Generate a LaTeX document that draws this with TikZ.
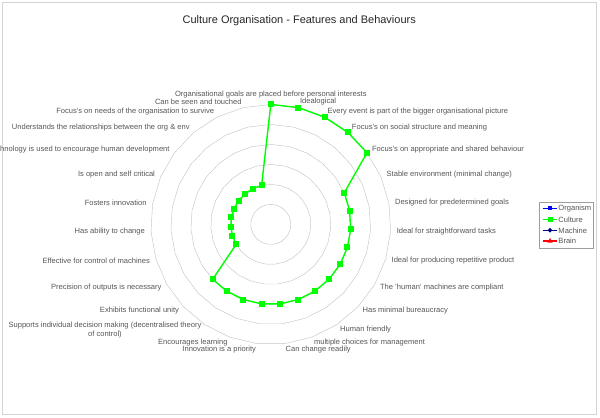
\documentclass[tikz,border=0pt]{standalone}
\usepackage{fontspec}
\setmainfont{Liberation Sans}
\usetikzlibrary{shapes.geometric,calc}
\definecolor{ringgrey}{HTML}{C4C4C4}
\definecolor{framegrey}{HTML}{D4D4D4}
\definecolor{labelgrey}{HTML}{555555}
\definecolor{culture}{HTML}{00FF00}
\definecolor{organism}{HTML}{0000FF}
\definecolor{machine}{HTML}{000080}
\definecolor{brain}{HTML}{FF0000}
\tikzset{
  lbl/.style={font=\fontsize{8.6}{10}\selectfont, text=labelgrey, inner sep=0pt, align=center},
  sqbox/.style={rectangle, fill=culture, inner sep=0pt, minimum size=0.24cm},
  ring/.style={draw=ringgrey, line width=0.5pt}
}

\begin{document}
\begin{tikzpicture}[x=0.04cm,y=0.04cm]
\useasboundingbox (-270.8,-192.6) rectangle (329.2,224.4);
\draw[framegrey, line width=0.8pt] (-268.1,-189.6) rectangle (325.7,221.7);

% title
\node[font=\fontsize{12.5}{15}\selectfont, text=black!85] (title) at (28.4,203.7)
  {Culture Organisation - Features and Behaviours};

% rings
\foreach \r in {20,40,...,120}
  \draw[ring] (90:\r) \foreach \k in {1,...,26} { -- ({90-\k*360/27}:\r) } -- cycle;

% category labels
\foreach \txt [count=\i from 0] in {
  {Organisational goals are placed before personal interests},
  {Idealogical},
  {Every event is part of the bigger organisational picture},
  {Focus's on social structure and meaning},
  {Focus's on appropriate and shared behaviour},
  {Stable environment (minimal change)},
  {Designed for predetermined goals},
  {Ideal for straightforward tasks},
  {Ideal for producing repetitive product},
  {The 'human' machines are compliant},
  {Has minimal bureaucracy},
  {Human friendly},
  {multiple choices for management},
  {Can change readily},
  {Innovation is a priority},
  {Encourages learning},
  {Supports individual decision making (decentralised theory\\of control)},
  {Exhibits functional unity},
  {Precision of outputs is necessary},
  {Effective for control of machines},
  {Has ability to change},
  {Fosters innovation},
  {Is open and self critical},
  {Technology is used to encourage human development},
  {Understands the relationships between the org \& env},
  {Focus's on needs of the organisation to survive},
  {Can be seen and touched}}
{
  \pgfmathsetmacro\ang{90-\i*360/27}
  \ifnum\i=0 \def\anc{south}\else\ifnum\i<14 \def\anc{west}\else\def\anc{east}\fi\fi
  \node[lbl, anchor=\anc] (l\i) at (\ang:126) {\txt};
}

% culture series
\foreach \v [count=\i from 0] in {6,6,6,6,6,4,4,4,4,4,4,4,4,4,4,4,4,4,2,2,2,2,2,2,2,2,2}
  \coordinate (p\i) at ({90-\i*360/27}:{20*\v});
\draw[culture, line width=1.6pt] (p0) \foreach \i in {1,...,26} { -- (p\i) } -- cycle;
\foreach \i in {0,...,26}
  \node[sqbox] (c\i) at (p\i) {};

% legend
\draw[ringgrey!80!black, line width=0.5pt] (268.2,-23.6) rectangle (322.2,22.4);
\foreach \name/\col/\y in {Organism/organism/16.1, Culture/culture/5.1, Machine/machine/-5.9, Brain/brain/-16.6} {
  \coordinate (a\name) at (271.9,\y);
  \coordinate (b\name) at (286.5,\y);
  \draw[\col, line width=1.2pt] (a\name) -- (b\name);
  \node[lbl, anchor=west] (t\name) at (287.5,\y) {\name};
}
\node[rectangle, fill=organism, inner sep=0pt, minimum size=0.16cm] (mOrganism) at ($(aOrganism)!0.5!(bOrganism)$) {};
\node[sqbox, minimum size=0.2cm] (mCulture) at ($(aCulture)!0.5!(bCulture)$) {};
\node[diamond, fill=machine, inner sep=0pt, minimum size=0.2cm] (mMachine) at ($(aMachine)!0.5!(bMachine)$) {};
\node[regular polygon, regular polygon sides=3, fill=brain, inner sep=0pt, minimum size=0.24cm] (mBrain) at ($(aBrain)!0.5!(bBrain)$) {};
\end{tikzpicture}
\end{document}
